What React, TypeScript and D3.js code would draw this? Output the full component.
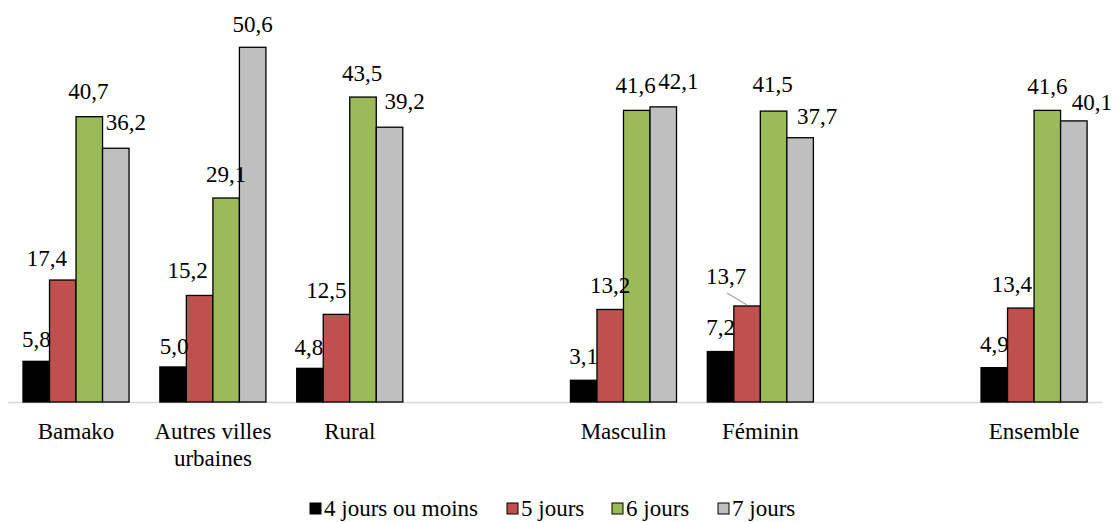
import React from "react";
import * as d3 from "d3";

const categoryKeys = ["Bamako", "Autres", "Rural", "gap1", "Masculin", "Feminin", "gap2", "Ensemble"];
const categoryLabels: string[][] = [
  ["Bamako"],
  ["Autres villes", "urbaines"],
  ["Rural"],
  [],
  ["Masculin"],
  ["Féminin"],
  [],
  ["Ensemble"],
];
const seriesNames = ["4 jours ou moins", "5 jours", "6 jours", "7 jours"];
const values4 = [5.8, 5.0, 4.8, null, 3.1, 7.2, null, 4.9];
const values5 = [17.4, 15.2, 12.5, null, 13.2, 13.7, null, 13.4];
const values6 = [40.7, 29.1, 43.5, null, 41.6, 41.5, null, 41.6];
const values7 = [36.2, 50.6, 39.2, null, 42.1, 37.7, null, 40.1];
const seriesValues = [values4, values5, values6, values7];

const colors = ["#000000", "#C0504D", "#9BBB59", "#BFBFBF"];

// label placement adjustments [dx, dy of text centre from bar top-centre]
const labelOffsets: [number, number][][] = [
  [[0, -22], [-16, -22], [-1, -25], [10, -26]],
  [[1, -21], [-12, -25], [0, -24], [0, -23]],
  [[-1, -21], [-10, -24], [-1, -24], [15, -26]],
  [[0, 0], [0, 0], [0, 0], [0, 0]],
  [[0, -24], [0, -24], [-1, -25], [15, -26]],
  [[0, -24], [-21, -30], [-1, -27], [17, -22]],
  [[0, 0], [0, 0], [0, 0], [0, 0]],
  [[0, -23], [-9, -24], [0, -24], [18, -19]],
];

const W = 1118;
const H = 522;
const FS = 23;

export default function App() {
  const baseline = 402;
  const x0 = d3.scaleBand<string>().domain(categoryKeys).range([7.6, 1102.5]).padding(0);
  const step = x0.step();
  const groupW = step * 0.775;
  const x1 = d3.scaleBand<string>().domain(seriesNames).range([0, groupW]).padding(0);
  const y = d3.scaleLinear().domain([0, 60]).range([baseline, baseline - 60 * 7.01]);
  const fmt = (v: number) => d3.format(".1f")(v).replace(".", ",");

  const bars: React.ReactNode[] = [];
  const labels: React.ReactNode[] = [];
  categoryKeys.forEach((cat, ci) => {
    seriesNames.forEach((s, si) => {
      const v = seriesValues[si][ci];
      if (v == null) return;
      const bx = (x0(cat) as number) + (step - groupW) / 2 + (x1(s) as number);
      const bw = x1.bandwidth();
      const top = y(v);
      bars.push(
        <rect key={`b-${ci}-${si}`} x={bx} y={top} width={bw} height={baseline - top}
          fill={colors[si]} stroke="#000" strokeWidth={1.3} />
      );
      const [dx, dy] = labelOffsets[ci][si];
      const cx = bx + bw / 2 + dx;
      const cy = top + dy;
      labels.push(
        <text key={`l-${ci}-${si}`} x={cx} y={cy + 7.8} textAnchor="middle">{fmt(v)}</text>
      );
      if (cat === "Feminin" && si === 1) {
        labels.push(
          <line key="leader" x1={727} x2={bx + bw / 2} y1={293} y2={top - 1}
            stroke="#A6A6A6" strokeWidth={1.2} />
        );
      }
    });
  });

  const legendX = [310, 507, 612, 718];

  return (
    <svg width={W} height={H} fontFamily="Liberation Serif" fontSize={FS}
      style={{ position: "absolute", left: 0, top: 0, display: "block", background: "#fff" }}>
      <style>{`text { font-family: "Liberation Serif", serif; font-size: ${FS}px; fill: #000; }`}</style>
      <line x1={8} x2={1102.5} y1={baseline + 0.5} y2={baseline + 0.5} stroke="#D9D9D9" strokeWidth={1.5} />
      {bars}
      {labels}
      {categoryKeys.map((cat, ci) =>
        categoryLabels[ci].map((ln, li) => (
          <text key={`c-${ci}-${li}`} x={(x0(cat) as number) + step / 2} y={439 + li * 26.5} textAnchor="middle">{ln}</text>
        ))
      )}
      {seriesNames.map((s, si) => (
        <g key={`lg-${si}`}>
          <rect x={legendX[si]} y={503} width={11} height={11} fill={colors[si]} stroke="#000" strokeWidth={1} />
          <text x={legendX[si] + 14} y={516}>{s}</text>
        </g>
      ))}
    </svg>
  );
}
